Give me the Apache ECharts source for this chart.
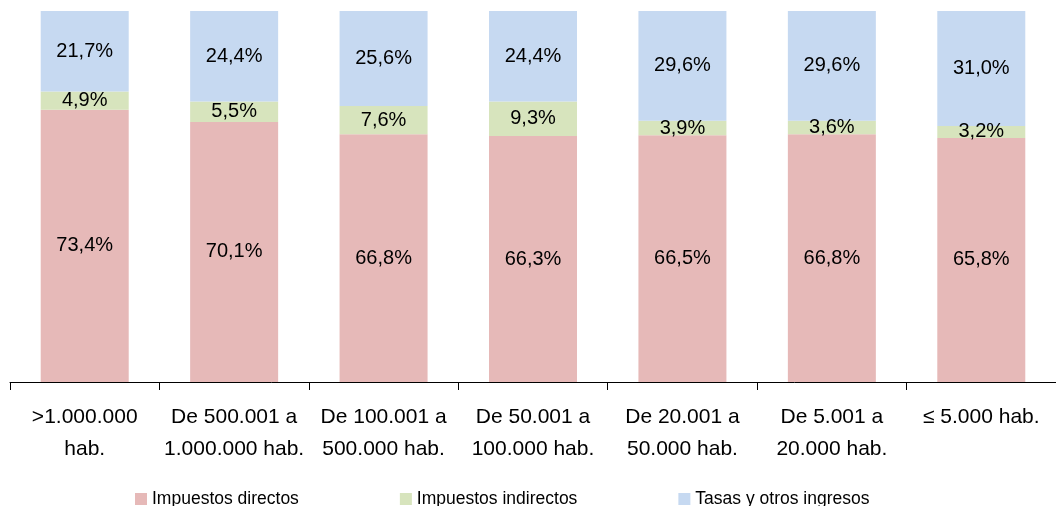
<!DOCTYPE html>
<html>
<head>
<meta charset="utf-8">
<script src="https://cdn.jsdelivr.net/npm/echarts@6/dist/echarts.min.js"></script>
<style>
  html, body { margin: 0; padding: 0; background: #fff; }
  #chart { width: 1056px; height: 506px; }
</style>
</head>
<body>
<div id="chart"></div>
<script>
var categories = ['>1.000.000\nhab.', 'De 500.001 a\n1.000.000 hab.', 'De 100.001 a\n500.000 hab.',
  'De 50.001 a\n100.000 hab.', 'De 20.001 a\n50.000 hab.', 'De 5.001 a\n20.000 hab.', '≤ 5.000 hab.'];
var directos = [73.4, 70.1, 66.8, 66.3, 66.5, 66.8, 65.8];
var indirectos = [4.9, 5.5, 7.6, 9.3, 3.9, 3.6, 3.2];
var tasas = [21.7, 24.4, 25.6, 24.4, 29.6, 29.6, 31.0];

var font = "'Liberation Sans', Arial, sans-serif";

function pct(p) {
  return p.value.toFixed(1).replace('.', ',') + '%';
}

function serie(name, data, color) {
  return {
    name: name,
    type: 'bar',
    stack: 'total',
    barWidth: 88,
    data: data,
    itemStyle: { color: color },
    label: {
      show: true,
      position: 'inside',
      formatter: pct,
      color: '#000',
      fontSize: 20,
      fontFamily: font
    }
  };
}

var chartDom = document.getElementById('chart');
var myChart = echarts.init(chartDom);
var option = {
  animation: false,
  textStyle: { fontFamily: font },
  grid: { left: 10, right: -4, top: 11, bottom: 124 },
  legend: {
    left: 130,
    top: 485,
    itemWidth: 12,
    itemHeight: 12,
    itemGap: 101,
    icon: 'rect',
    textStyle: { fontSize: 17.5, color: '#000', fontFamily: font },
    data: ['Impuestos directos', 'Impuestos indirectos', 'Tasas y otros ingresos']
  },
  xAxis: {
    type: 'category',
    data: categories,
    axisLine: { lineStyle: { color: '#000', width: 1 } },
    axisTick: { show: true, length: 8, inside: false, lineStyle: { color: '#000' } },
    axisLabel: {
      interval: 0,
      margin: 19,
      fontSize: 21,
      lineHeight: 32,
      color: '#000',
      fontFamily: font
    }
  },
  yAxis: {
    type: 'value',
    min: 0,
    max: 100,
    show: false
  },
  series: [
    serie('Impuestos directos', directos, '#E6B9B8'),
    serie('Impuestos indirectos', indirectos, '#D7E4BD'),
    serie('Tasas y otros ingresos', tasas, '#C6D9F1')
  ]
};
option && myChart.setOption(option);
</script>
</body>
</html>
